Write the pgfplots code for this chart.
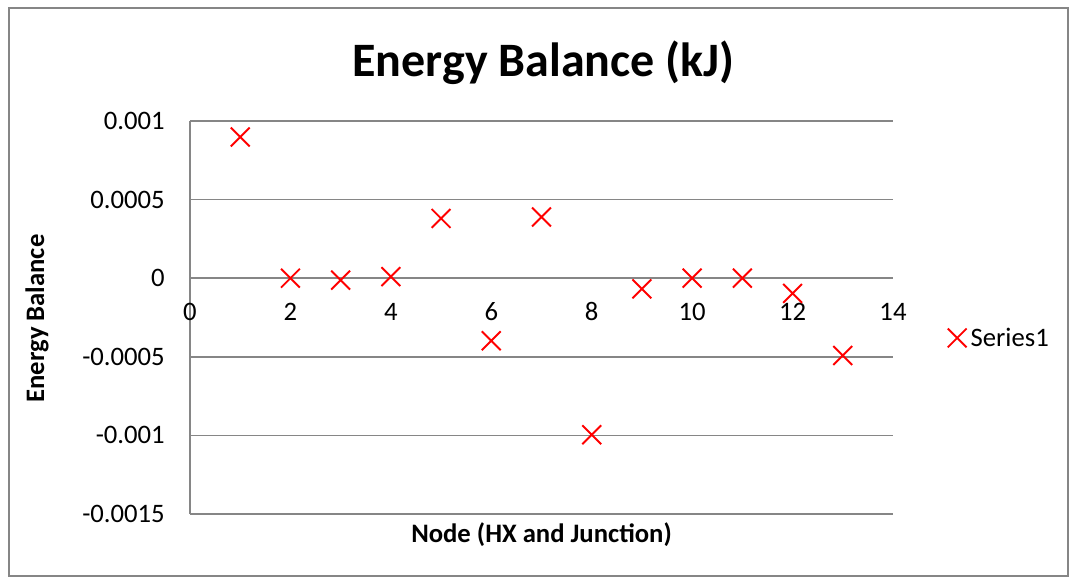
\documentclass[border=0pt]{standalone}
\usepackage{fontspec}
\setmainfont{Carlito}
\usepackage{pgfplots}
\pgfplotsset{compat=1.18}
\definecolor{gridgray}{HTML}{868686}
\begin{document}
\begin{tikzpicture}[x=0.75pt,y=0.75pt]
\useasboundingbox (0,0) rectangle (1070,577);
\draw[gridgray, line width=1.1pt] (9,0.8) rectangle (1068,569);
\node[font=\fontsize{36}{40}\selectfont\bfseries, anchor=base, inner sep=0pt] at (543.5,500) {Energy Balance (kJ)};
\node[font=\fontsize{20}{24}\selectfont\bfseries, anchor=base, inner sep=0pt] at (541.5,34) {Node (HX and Junction)};
\node[font=\fontsize{20}{24}\selectfont\bfseries, rotate=90, anchor=center, inner sep=0pt] at (37,258.5) {Energy Balance};
\begin{axis}[
  at={(142.5pt,47.25pt)}, anchor=south west, scale only axis,
  width=527.25pt, height=294.75pt,
  xmin=0, xmax=14, ymin=-0.0015, ymax=0.001,
  scaled y ticks=false, scaled x ticks=false,
  axis x line*=middle, axis y line*=left,
  hide obscured x ticks=false, hide obscured y ticks=false,
  axis line style={gridgray, line width=1.1pt},
  major tick length=0pt,
  ymajorgrids, grid style={gridgray, line width=1.1pt},
  xtick={0,2,4,6,8,10,12,14},
  xticklabels={0,2,4,6,8,10,12,14},
  ytick={-0.0015,-0.001,-0.0005,0,0.0005,0.001},
  yticklabels={-0.0015,-0.001,-0.0005,0,0.0005,0.001},
  tick label style={font=\fontsize{20}{24}\selectfont, inner sep=0pt},
  xticklabel style={anchor=base, yshift=-31.5pt},
  yticklabel style={anchor=east, xshift=-18.75pt},
  legend style={draw=none, fill=none, at={(axis description cs:1.0775,0.448)}, anchor=west, inner sep=0pt, font=\fontsize{20}{24}\selectfont, nodes={inner sep=3pt}},
  legend cell align=left,
  legend image code/.code={\draw[#1] plot coordinates {(7pt,0pt)};},
  clip=false,
]
\addplot[only marks, mark=x, mark size=10pt, color=red, line width=1.45pt] coordinates {
(1,0.000898) (2,0.0) (3,-0.0000127) (4,0.00001) (5,0.00038) (6,-0.000398)
(7,0.000389) (8,-0.000996) (9,-0.000068) (10,0.0) (11,0.0) (12,-0.000097) (13,-0.000492)
};
\addlegendentry{Series1}
\end{axis}
\end{tikzpicture}
\end{document}
